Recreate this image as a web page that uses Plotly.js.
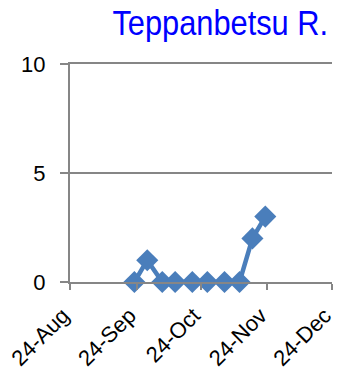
<!DOCTYPE html>
<html>
<head>
<meta charset="utf-8">
<script src="https://cdn.plot.ly/plotly-3.0.1.min.js"></script>
<style>
  html, body { margin: 0; padding: 0; background: #fff; }
  #chart { width: 340px; height: 374px; }
</style>
</head>
<body>
<div id="chart"></div>
<script>
// Sampling dates and observed values
const sampleDates = ['2011-09-23', '2011-09-29', '2011-10-06', '2011-10-12', '2011-10-20',
                     '2011-10-27', '2011-11-04', '2011-11-11', '2011-11-17', '2011-11-23'];
const sampleValues = [0, 1, 0, 0, 0, 0, 0, 0, 2, 3];

// Month ticks on the date axis
const tickDates = ['2011-08-24', '2011-09-24', '2011-10-24', '2011-11-24', '2011-12-24'];
const tickLabels = ['24-Aug', '24-Sep', '24-Oct', '24-Nov', '24-Dec'];
const yTicks = [0, 5, 10];

const blue = '#4a7ebb';
const gray = '#868686';

const trace = {
  x: sampleDates,
  y: sampleValues,
  type: 'scatter',
  mode: 'lines+markers',
  line: { color: blue, width: 4.5 },
  marker: { symbol: 'diamond', size: 17, color: blue },
  cliponaxis: false,
  hoverinfo: 'x+y'
};

const layout = {
  width: 340,
  height: 374,
  margin: { l: 70, r: 8, t: 64, b: 92 },
  paper_bgcolor: '#fff',
  plot_bgcolor: '#fff',
  showlegend: false,
  title: {
    text: 'Teppanbetsu R.',
    font: { family: '"Liberation Sans", Arial, sans-serif', size: 35, color: '#0000ff' },
    x: 0.985, xref: 'paper', xanchor: 'right',
    y: 0.94, yanchor: 'middle'
  },
  xaxis: {
    type: 'date',
    range: [tickDates[0], '2011-12-24 02:00'],
    tickmode: 'array',
    tickvals: tickDates,
    ticktext: tickLabels,
    tickangle: -45,
    ticks: 'outside',
    ticklen: 6,
    tickcolor: gray,
    tickwidth: 2,
    ticklabelstandoff: 4,
    ticklabelshift: -7,
    ticklabeloverflow: 'allow',
    showgrid: false,
    zeroline: false,
    showline: true,
    mirror: true,
    linecolor: gray,
    linewidth: 2,
    tickfont: { family: '"Liberation Sans", Arial, sans-serif', size: 22, color: '#000' },
    fixedrange: true
  },
  yaxis: {
    range: [0, 10],
    tickmode: 'array',
    tickvals: yTicks,
    ticks: 'outside',
    ticklen: 8,
    tickcolor: gray,
    tickwidth: 2,
    ticklabelstandoff: 10,
    showgrid: true,
    gridcolor: gray,
    gridwidth: 2,
    zeroline: false,
    showline: true,
    linecolor: gray,
    linewidth: 2,
    tickfont: { family: '"Liberation Sans", Arial, sans-serif', size: 22, color: '#000' },
    fixedrange: true
  }
};

// Narrow the title horizontally, keeping its right edge in place
function condenseTitle(gd) {
  const t = gd.querySelector('.gtitle');
  if (!t) return;
  const bb = t.getBBox();
  const right = bb.x + bb.width;
  const k = 0.88;
  t.setAttribute('transform', 'translate(' + (right * (1 - k)) + ',0) scale(' + k + ',1)');
}

Plotly.newPlot('chart', [trace], layout, { displayModeBar: false, staticPlot: true })
  .then(condenseTitle);
</script>
</body>
</html>
